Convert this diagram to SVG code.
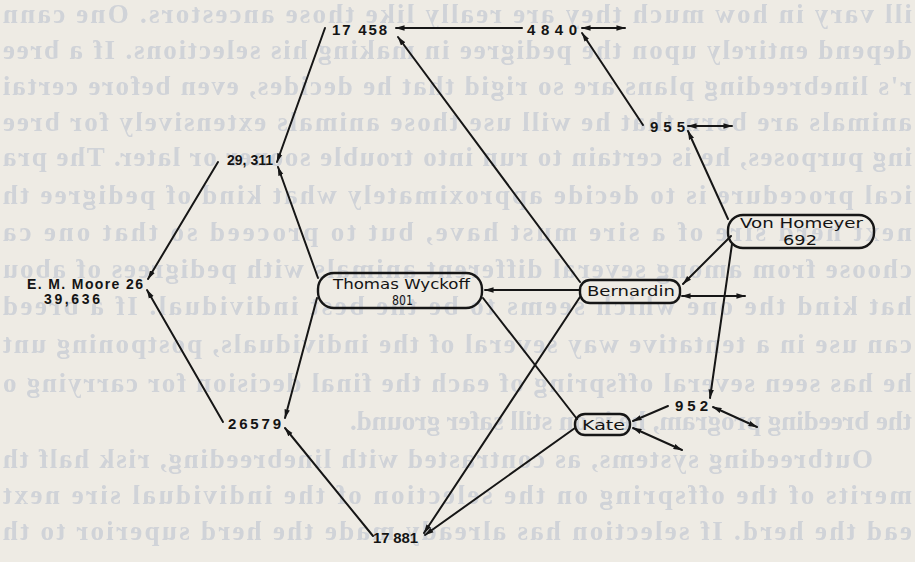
<svg xmlns="http://www.w3.org/2000/svg" width="915" height="562" viewBox="0 0 915 562">
<style>
.ln{stroke:#161616;stroke-width:2;fill:none;stroke-linecap:round}
.box{fill:none;stroke:#161616;stroke-width:2.4}
.num{font-family:"Liberation Sans",Arial,sans-serif;font-weight:bold;font-size:15px;fill:#141414}
.mo{font-size:14px}
.sm{font-size:13px}
.nm{font-family:"DejaVu Sans",sans-serif;font-size:14px;fill:#141414}
.bg{font-family:"Liberation Serif",serif;font-weight:bold;font-size:27px;fill:#d0d3d8}
</style>
<defs>
<marker id="ah" viewBox="0 0 10 6" refX="9.5" refY="3" markerWidth="9" markerHeight="6" markerUnits="userSpaceOnUse" orient="auto-start-reverse">
<path d="M0,0 L10,3 L0,6 z" fill="#161616"/>
</marker>
<filter id="soft" x="-2%" y="-20%" width="104%" height="140%"><feGaussianBlur stdDeviation="0.7"/></filter>
</defs>
<rect width="915" height="562" fill="#eeebe4"/>
<g id="show-through" transform="translate(915,0) scale(-1,1)" filter="url(#soft)">
<text class="bg" x="3" y="23" textLength="909" lengthAdjust="spacing">ill vary in how much they are really like those ancestors. One cann</text>
<text class="bg" x="3" y="59" textLength="909" lengthAdjust="spacing">depend entirely upon the pedigree in making his selections. If a bree</text>
<text class="bg" x="3" y="95" textLength="909" lengthAdjust="spacing">r's linebreeding plans are so rigid that he decides, even before certai</text>
<text class="bg" x="3" y="131" textLength="909" lengthAdjust="spacing">animals are born that he will use those animals extensively for bree</text>
<text class="bg" x="3" y="166" textLength="909" lengthAdjust="spacing">ing purposes, he is certain to run into trouble sooner or later. The pra</text>
<text class="bg" x="3" y="204" textLength="909" lengthAdjust="spacing">ical procedure is to decide approximately what kind of pedigree th</text>
<text class="bg" x="3" y="241" textLength="909" lengthAdjust="spacing">next herd sire of a sire must have, but to proceed so that one ca</text>
<text class="bg" x="3" y="278" textLength="909" lengthAdjust="spacing">choose from among several different animals with pedigrees of abou</text>
<text class="bg" x="3" y="315" textLength="909" lengthAdjust="spacing">hat kind the one which seems to be the best individual. If a breed</text>
<text class="bg" x="3" y="353" textLength="909" lengthAdjust="spacing">can use in a tentative way several of the individuals, postponing unt</text>
<text class="bg" x="3" y="392" textLength="909" lengthAdjust="spacing">he has seen several offspring of each the final decision for carrying o</text>
<text class="bg" x="3" y="430">the breeding program, he is on still safer ground.</text>
<text class="bg" x="42" y="468" textLength="870" lengthAdjust="spacing">Outbreeding systems, as contrasted with linebreeding, risk half th</text>
<text class="bg" x="3" y="504" textLength="909" lengthAdjust="spacing">merits of the offspring on the selection of the individual sire next</text>
<text class="bg" x="3" y="540" textLength="909" lengthAdjust="spacing">ead the herd. If selection has already made the herd superior to th</text>
</g>
<g id="connectors">
<path class="ln" d="M522,28 L396,28" marker-end="url(#ah)"/>
<path class="ln" d="M325,28 L277,162" marker-end="url(#ah)"/>
<path class="ln" d="M580,282 L398,37" marker-end="url(#ah)"/>
<path class="ln" d="M582,28 L625,28" marker-start="url(#ah)" marker-end="url(#ah)"/>
<path class="ln" d="M643,125 L582,33" marker-end="url(#ah)"/>
<path class="ln" d="M688,126 L732,126" marker-start="url(#ah)" marker-end="url(#ah)"/>
<path class="ln" d="M728,219 L688,131" marker-end="url(#ah)"/>
<path class="ln" d="M218,162 L148,279" marker-end="url(#ah)"/>
<path class="ln" d="M223,422 L147,290" marker-end="url(#ah)"/>
<path class="ln" d="M318,278 L278,167" marker-end="url(#ah)"/>
<path class="ln" d="M317,298 L285,418" marker-end="url(#ah)"/>
<path class="ln" d="M373,536 L285,428" marker-end="url(#ah)"/>
<path class="ln" d="M579,290 L485,290" marker-end="url(#ah)"/>
<path class="ln" d="M577,419 L483,298"/>
<path class="ln" d="M580,297 L424,533" marker-end="url(#ah)"/>
<path class="ln" d="M575,428 L425,535" marker-end="url(#ah)"/>
<path class="ln" d="M731,236 L683,284" marker-end="url(#ah)"/>
<path class="ln" d="M682,296 L745,296" marker-start="url(#ah)" marker-end="url(#ah)"/>
<path class="ln" d="M732,244 L710,398" marker-end="url(#ah)"/>
<path class="ln" d="M668,406 L633,421" marker-end="url(#ah)"/>
<path class="ln" d="M713,407 L757,427" marker-start="url(#ah)" marker-end="url(#ah)"/>
<path class="ln" d="M633,428 L682,450" marker-start="url(#ah)" marker-end="url(#ah)"/>
</g>
<g id="n-17458"><text class="num" x="332" y="35" textLength="55" lengthAdjust="spacing">17 458</text></g>
<g id="n-4840"><text class="num" x="527" y="35" textLength="50" lengthAdjust="spacing">4840</text></g>
<g id="n-955"><text class="num" x="650" y="131.5" textLength="35" lengthAdjust="spacing">955</text></g>
<g id="n-29311"><text class="num" x="227" y="165" textLength="46" lengthAdjust="spacingAndGlyphs">29, 311</text></g>
<g id="n-vonhomeyer">
<rect class="box" x="728" y="215" width="146" height="33" rx="15"/>
<text class="nm sm" x="740" y="228" textLength="123" lengthAdjust="spacingAndGlyphs">Von Homeyer</text>
<text class="nm sm" x="783" y="245" textLength="34" lengthAdjust="spacingAndGlyphs">692</text>
</g>
<g id="n-moore">
<text class="num mo" x="27" y="289" textLength="116" lengthAdjust="spacing">E. M. Moore  26</text>
<text class="num mo" x="44" y="304" textLength="56" lengthAdjust="spacing">39,636</text>
</g>
<g id="n-thomas">
<rect class="box" x="318" y="273" width="164" height="35" rx="16"/>
<text class="nm sm" x="333" y="289" textLength="137" lengthAdjust="spacingAndGlyphs">Thomas Wyckoff</text>
<text class="nm sm" x="392" y="305" textLength="21" lengthAdjust="spacingAndGlyphs">801</text>
</g>
<g id="n-bernardin">
<rect class="box" x="580" y="280" width="100" height="23" rx="10"/>
<text class="nm" x="587" y="296" textLength="88" lengthAdjust="spacingAndGlyphs">Bernardin</text>
</g>
<g id="n-26579"><text class="num" x="228" y="428.5" textLength="53" lengthAdjust="spacing">26579</text></g>
<g id="n-952"><text class="num" x="675" y="410.5" textLength="33" lengthAdjust="spacing">952</text></g>
<g id="n-kate">
<rect class="box" x="575" y="414" width="55" height="21" rx="10"/>
<text class="nm" x="582" y="430" textLength="43" lengthAdjust="spacingAndGlyphs">Kate</text>
</g>
<g id="n-17881"><text class="num" x="373" y="542.5" textLength="45" lengthAdjust="spacing">17 881</text></g>
</svg>
